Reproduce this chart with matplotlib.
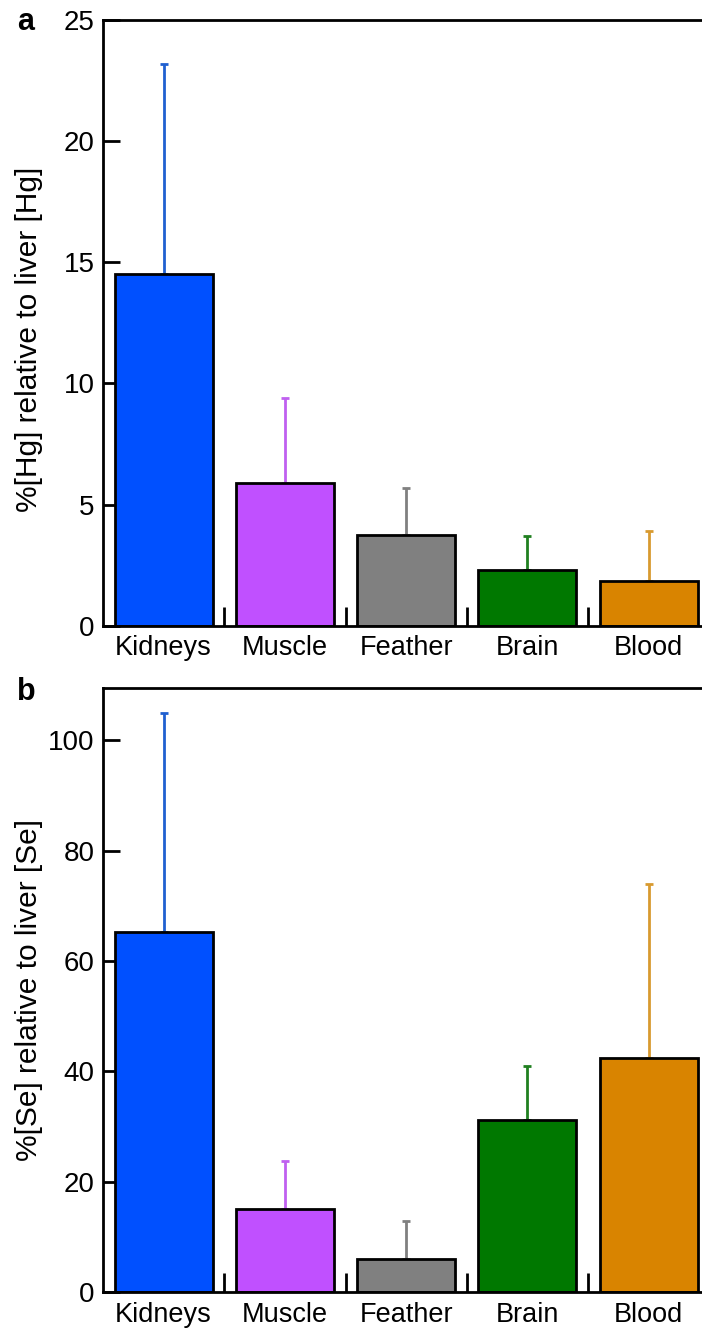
import numpy as np
import matplotlib.pyplot as plt

plt.rcParams['font.family'] = ['Liberation Sans', 'DejaVu Sans']

tissues = ['Kidneys', 'Muscle', 'Feather', 'Brain', 'Blood']
bar_colors = ['#0050ff', '#c050ff', '#808080', '#007800', '#d98400']
err_colors = ['#2060d0', '#c060f0', '#808080', '#208020', '#d89a30']

# panel a: Hg
hg_mean = [14.5, 5.9, 3.75, 2.3, 1.85]
hg_err = [8.7, 3.5, 1.95, 1.4, 2.05]

# panel b: Se
se_mean = [65.3, 15.1, 5.9, 31.1, 42.5]
se_err = [39.7, 8.6, 7.0, 9.8, 31.4]


def draw_panel(ax, mean, err, ymax, yticks, ylabel, label_y):
    x = np.arange(len(tissues))
    ax.bar(x, mean, width=0.81, color=bar_colors, edgecolor='black',
           linewidth=2, zorder=2)
    for i in range(len(x)):
        ax.errorbar(x[i], mean[i], yerr=[[0], [err[i]]], color=err_colors[i],
                    capsize=3, capthick=2, elinewidth=2, zorder=1)
    ax.set_xlim(-0.5, 4.44)
    ax.set_ylim(0, ymax)
    ax.set_yticks(yticks)
    ax.set_xticks(x)
    ax.set_xticklabels(tissues)
    ax.set_xticks(x[:-1] + 0.5, minor=True)
    ax.tick_params(axis='x', which='major', length=0, labelsize=19.5, pad=7)
    ax.tick_params(axis='x', which='minor', direction='in', length=14,
                   width=2)
    ax.tick_params(axis='y', direction='in', length=12, width=2,
                   labelsize=20, pad=6)
    ax.spines['right'].set_visible(False)
    for s in ['left', 'top', 'bottom']:
        ax.spines[s].set_linewidth(2)
    ax.set_ylabel(ylabel, fontsize=21.5)
    ax.yaxis.set_label_coords(-0.10, label_y)


fig = plt.figure(figsize=(7.02, 13.37), dpi=100)
ax1 = fig.add_axes([0.1467, 0.532, 0.8533, 0.453])
ax2 = fig.add_axes([0.1467, 0.0337, 0.8533, 0.4517])

draw_panel(ax1, hg_mean, hg_err, 25, [0, 5, 10, 15, 20, 25],
           '%[Hg] relative to liver [Hg]', 0.472)
draw_panel(ax2, se_mean, se_err, 109.5, [0, 20, 40, 60, 80, 100],
           '%[Se] relative to liver [Se]', 0.5)

fig.text(17 / 702, 1 - 22 / 1337, 'a', fontsize=22, fontweight='bold',
         ha='left', va='center')
fig.text(17 / 702, 1 - 692 / 1337, 'b', fontsize=22, fontweight='bold',
         ha='left', va='center')

fig.savefig('out.png', dpi=100)
